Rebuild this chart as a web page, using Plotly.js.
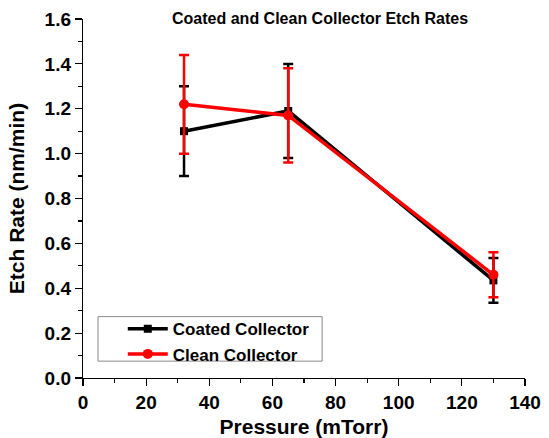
<!DOCTYPE html>
<html><head><meta charset="utf-8">
<script src="https://cdn.plot.ly/plotly-3.0.1.min.js"></script>
<style>html,body{margin:0;padding:0;background:#fff}#chart{width:549px;height:438px}</style>
</head><body><div id="chart"></div>
<script>
const pressure = [32, 65, 130];
const coatedRate = [1.10, 1.19, 0.435];
const coatedErr = [0.20, 0.21, 0.10];
const cleanRate = [1.22, 1.17, 0.46];
const cleanErr = [0.22, 0.21, 0.10];
const seriesNames = ['Coated Collector', 'Clean Collector'];
const xTicks = [0, 20, 40, 60, 80, 100, 120, 140];
const yTicks = [0.0, 0.2, 0.4, 0.6, 0.8, 1.0, 1.2, 1.4, 1.6];

const F = 'Liberation Sans, Arial, sans-serif';
const traces = [
  {x: pressure, y: coatedRate, name: seriesNames[0], type: 'scatter', mode: 'lines+markers',
   line: {color: '#000', width: 3.5}, marker: {symbol: 'square', size: 8, color: '#000'},
   error_y: {type: 'data', array: coatedErr, visible: true, color: '#000', thickness: 2.5, width: 5}},
  {x: pressure, y: cleanRate, name: seriesNames[1], type: 'scatter', mode: 'lines+markers',
   line: {color: '#ff0000', width: 3.5}, marker: {symbol: 'circle', size: 10, color: '#ff0000'},
   error_y: {type: 'data', array: cleanErr, visible: true, color: '#ff0000', thickness: 2.5, width: 5}}
];
const axisCommon = {showgrid: false, zeroline: false, showline: true, linecolor: '#000', linewidth: 1.2,
  ticks: 'outside', ticklen: 7, tickwidth: 1.2, tickcolor: '#000',
  tickfont: {family: F, size: 19, color: '#000', weight: 'bold'}};
const layout = {
  width: 549, height: 438, paper_bgcolor: '#fff', plot_bgcolor: '#fff',
  margin: {l: 83, r: 24, t: 19, b: 60},
  title: {text: '<b>Coated and Clean Collector Etch Rates</b>', font: {family: F, size: 16, color: '#000'},
    x: 0.583, xanchor: 'center', y: 0.959, yanchor: 'middle', yref: 'container'},
  xaxis: Object.assign({}, axisCommon, {range: [0, 140], tickvals: xTicks, ticktext: xTicks.map(String),
    minor: {dtick: 10, ticks: 'outside', ticklen: 4, tickwidth: 1.2, tickcolor: '#000'},
    title: {text: '<b>Pressure (mTorr)</b>', font: {family: F, size: 21, color: '#000'}, standoff: 8}}),
  yaxis: Object.assign({}, axisCommon, {range: [0, 1.6], tickvals: yTicks, ticktext: yTicks.map(v => v.toFixed(1)),
    minor: {dtick: 0.1, ticks: 'outside', ticklen: 4, tickwidth: 1.2, tickcolor: '#000'},
    title: {text: '<b>Etch Rate (nm/min)</b>', font: {family: F, size: 21, color: '#000'}, standoff: 14}}),
  showlegend: true,
  legend: {x: 0.09, y: 0.186, xanchor: 'left', yanchor: 'top', bgcolor: 'rgba(0,0,0,0)', borderwidth: 0,
    font: {family: F, size: 17, color: '#000', weight: 'bold'}, tracegroupgap: 0, itemwidth: 40},
  shapes: [{type: 'rect', xref: 'paper', yref: 'paper', x0: 0.034, x1: 0.541, y0: 0.047, y1: 0.171,
    line: {color: '#888', width: 1}, fillcolor: 'rgba(0,0,0,0)'}]
};
Plotly.newPlot('chart', traces, layout, {staticPlot: true, displayModeBar: false});
</script></body></html>
